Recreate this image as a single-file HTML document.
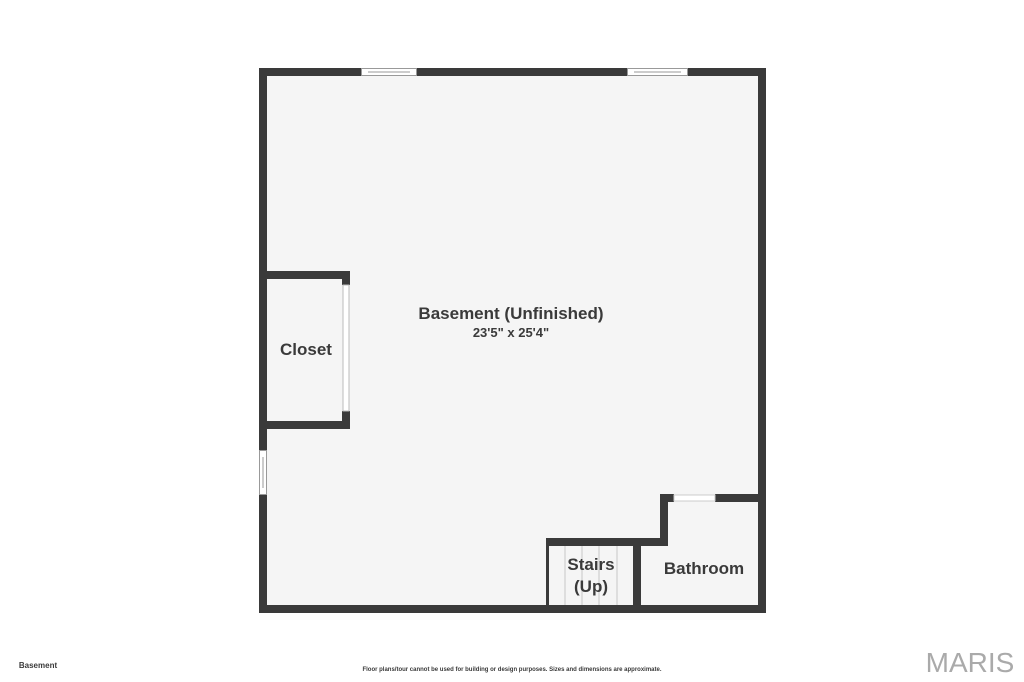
<!DOCTYPE html>
<html><head><meta charset="utf-8"><style>
html,body{margin:0;padding:0;background:#fff;}
body{width:1024px;height:682px;overflow:hidden;position:relative;font-family:"Liberation Sans",sans-serif;}
</style></head><body>
<svg width="1024" height="682" viewBox="0 0 1024 682" xmlns="http://www.w3.org/2000/svg" style="position:absolute;left:0;top:0">
<rect x="259" y="68" width="507" height="545" fill="#f5f5f5"/>
<g fill="#3a3a3a">
<rect x="259" y="68" width="507" height="8"/>
<rect x="259" y="68" width="8" height="545"/>
<rect x="758" y="68" width="8" height="545"/>
<rect x="259" y="605" width="507" height="8"/>
<rect x="259" y="271" width="91" height="8"/>
<rect x="342" y="271" width="8" height="14"/>
<rect x="342" y="411" width="8" height="18"/>
<rect x="259" y="421" width="91" height="8"/>
<rect x="660" y="494" width="14" height="8"/>
<rect x="715" y="494" width="51" height="8"/>
<rect x="660" y="494" width="8" height="52"/>
<rect x="546" y="538" width="122" height="8"/>
<rect x="633" y="538" width="8" height="75"/>
<rect x="546" y="538" width="3" height="70"/>
</g>
<rect x="343" y="285" width="6" height="126" fill="#fff" stroke="#bbb" stroke-width="1"/>
<g fill="#fff" stroke="#999" stroke-width="1">
<rect x="361.5" y="68.5" width="55" height="7"/>
<rect x="627.5" y="68.5" width="60" height="7"/>
<rect x="259.5" y="450.5" width="7" height="44"/>
<rect x="674" y="495" width="41" height="6" stroke="#ccc"/>
</g>
<g stroke="#999" stroke-width="1">
<line x1="368" y1="72" x2="410" y2="72"/>
<line x1="634" y1="72" x2="681" y2="72"/>
<line x1="263" y1="457" x2="263" y2="488"/>
</g>
<g stroke="#c8c8c8" stroke-width="1">
<line x1="565" y1="546" x2="565" y2="605"/>
<line x1="582" y1="546" x2="582" y2="605"/>
<line x1="599" y1="546" x2="599" y2="605"/>
<line x1="617" y1="546" x2="617" y2="605"/>
</g>
<g font-family="Liberation Sans, sans-serif" font-weight="bold" fill="#3a3a3a" text-anchor="middle">
<text x="511" y="319" font-size="17">Basement (Unfinished)</text>
<text x="511" y="337" font-size="13">23'5" x 25'4"</text>
<text x="306" y="355" font-size="17">Closet</text>
<text x="591" y="570" font-size="17">Stairs</text>
<text x="591" y="592" font-size="17">(Up)</text>
<text x="704" y="574" font-size="17">Bathroom</text>
<text x="38" y="668" font-size="8">Basement</text>
<text x="512" y="671" font-size="6">Floor plans/tour cannot be used for building or design purposes. Sizes and dimensions are approximate.</text>
</g>
<text x="970" y="672" font-family="Liberation Sans, sans-serif" font-size="28" fill="#aaa" text-anchor="middle">MARIS</text>
</svg>
</body></html>
